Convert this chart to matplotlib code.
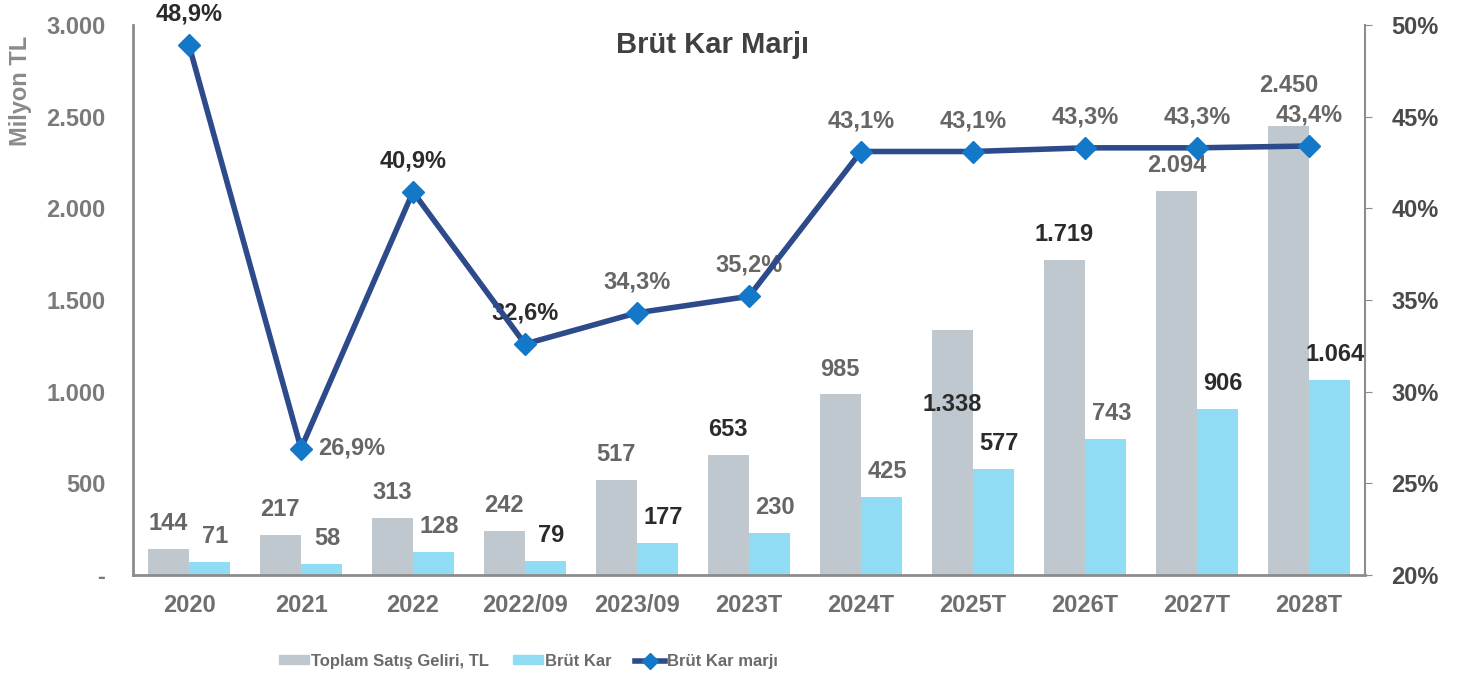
import numpy as np
import matplotlib.pyplot as plt
from matplotlib.lines import Line2D
from matplotlib.patches import Patch

plt.rcParams['font.family'] = ['Liberation Sans', 'DejaVu Sans']
plt.rcParams['font.weight'] = 'bold'

# data
periods = ['2020', '2021', '2022', '2022/09', '2023/09', '2023T',
           '2024T', '2025T', '2026T', '2027T', '2028T']
revenue = [144, 217, 313, 242, 517, 653, 985, 1338, 1719, 2094, 2450]
gross_profit = [71, 58, 128, 79, 177, 230, 425, 577, 743, 906, 1064]
margin = [48.9, 26.9, 40.9, 32.6, 34.3, 35.2, 43.1, 43.1, 43.3, 43.3, 43.4]

revenue_labels = ['144', '217', '313', '242', '517', '653', '985',
                  '1.338', '1.719', '2.094', '2.450']
profit_labels = ['71', '58', '128', '79', '177', '230', '425',
                 '577', '743', '906', '1.064']
margin_labels = ['48,9%', '26,9%', '40,9%', '32,6%', '34,3%', '35,2%',
                 '43,1%', '43,1%', '43,3%', '43,3%', '43,4%']

GRAY = '#c0c8cf'
CYAN = '#90dcf5'
NAVY = '#2d4a8a'
MARK = '#1478c8'
DARK = '#2b2b2b'
MID = '#666666'

fig = plt.figure(figsize=(14.6, 6.86), dpi=100)
ax = fig.add_axes([133 / 1460, 1 - 575 / 686, 1232 / 1460, 550 / 686])
ax2 = ax.twinx()

x = np.arange(len(periods))
w = 0.37
ax.bar(x - w / 2, revenue, w, color=GRAY, zorder=2)
ax.bar(x + w / 2, gross_profit, w, color=CYAN, zorder=2)

ax.set_xlim(-0.5, len(periods) - 0.5)
ax.set_ylim(0, 3000)
ax.set_yticks(range(0, 3001, 500))
ax.set_yticklabels(['-', '500', '1.000', '1.500', '2.000', '2.500', '3.000'])
ax.set_xticks(x)
ax.set_xticklabels(periods)
ax.tick_params(axis='y', length=0, labelsize=17, labelcolor='#7a7a7a', pad=20)
ax.tick_params(axis='x', length=0, labelsize=17, labelcolor='#6e6e6e', pad=14)
ax.set_ylabel('Milyon TL', fontsize=17, fontweight='bold', color='#8a8a8a')
ax.yaxis.set_label_coords(-0.082, 0.88)

for s in ['top', 'right']:
    ax.spines[s].set_visible(False)
for s in ['left', 'bottom']:
    ax.spines[s].set_color('#8c8c8c')
    ax.spines[s].set_linewidth(2)
for s in ['top', 'left', 'bottom']:
    ax2.spines[s].set_visible(False)
ax2.spines['right'].set_color('#8c8c8c')
ax2.spines['right'].set_linewidth(1.5)

ax2.plot(x, margin, color=NAVY, lw=4, marker='D', ms=11,
         mfc=MARK, mec=MARK, zorder=5)
ax2.set_ylim(20, 50)
ax2.set_yticks(range(20, 51, 5))
ax2.set_yticklabels([f'{v}%' for v in range(20, 51, 5)])
ax2.tick_params(axis='y', length=5, color='#8c8c8c', labelsize=17,
                labelcolor='#4a4a4a', pad=14)

# value labels
rev_col = [MID, MID, MID, MID, MID, DARK, MID, DARK, DARK, MID, MID]
gp_col = [MID, MID, MID, DARK, DARK, MID, MID, DARK, MID, DARK, DARK]
mg_col = [DARK, MID, DARK, DARK, MID, MID, MID, MID, MID, MID, MID]
rev_off = [10] * len(x)
rev_off[7] = -62
rev_off[10] = 21
for i in x:
    ax.annotate(revenue_labels[i], (x[i] - w / 2, revenue[i]),
                xytext=(0, rev_off[i]), textcoords='offset points',
                ha='center', va='bottom', fontsize=17, color=rev_col[i])
    ax.annotate(profit_labels[i], (x[i] + w / 2, gross_profit[i]),
                xytext=(4, 10), textcoords='offset points',
                ha='center', va='bottom', fontsize=17, color=gp_col[i])
    if i == 1:
        ax2.annotate(margin_labels[i], (x[i], margin[i]),
                     xytext=(12, 0), textcoords='offset points',
                     ha='left', va='center', fontsize=17, color=mg_col[i])
    else:
        ax2.annotate(margin_labels[i], (x[i], margin[i]),
                     xytext=(0, 14), textcoords='offset points',
                     ha='center', va='bottom', fontsize=17, color=mg_col[i])

fig.text(0.488, 0.935, 'Brüt Kar Marjı', ha='center', va='center',
         fontsize=21, color='#404040')

handles = [Patch(color=GRAY), Patch(color=CYAN),
           Line2D([], [], color=NAVY, lw=4, marker='D', ms=8,
                  mfc=MARK, mec=MARK)]
leg = fig.legend(handles, ['Toplam Satış Geliri, TL', 'Brüt Kar', 'Brüt Kar marjı'],
                 loc='center', bbox_to_anchor=(0.362, 0.036), ncol=3, frameon=False,
                 handlelength=1.8, handleheight=0.45, handletextpad=0.15,
                 columnspacing=1.4, prop={'weight': 'bold', 'size': 12})
for t in leg.get_texts():
    t.set_color('#6a6a6a')

fig.savefig('out.png', dpi=100)
